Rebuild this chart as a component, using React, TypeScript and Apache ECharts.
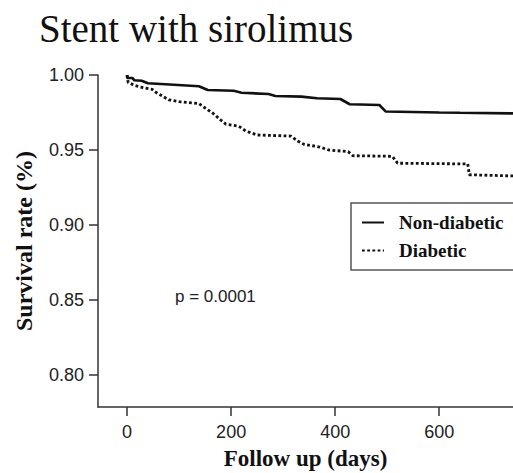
import React, { useEffect, useRef } from "react";
import * as echarts from "echarts";

const titleText = "Stent with sirolimus";
const xAxisName = "Follow up (days)";
const yAxisName = "Survival rate (%)";
const pValueText = "p = 0.0001";
const seriesNames = ["Non-diabetic", "Diabetic"];
const xTicks = [0, 200, 400, 600];
const yTicks = [0.8, 0.85, 0.9, 0.95, 1.0];

const nonDiabeticDays = [0, 0, 10, 14, 28, 40, 90, 138, 155, 205, 220, 272, 285, 335, 365, 410, 428, 485, 497, 600, 640, 742];
const nonDiabeticSurvival = [1.0, 0.998, 0.998, 0.9965, 0.9962, 0.9945, 0.9935, 0.9925, 0.99, 0.9895, 0.9882, 0.9873, 0.986, 0.9856, 0.9845, 0.984, 0.9805, 0.98, 0.9757, 0.975, 0.9748, 0.9744];

const diabeticDays = [0, 2, 15, 25, 48, 55, 65, 80, 100, 138, 150, 165, 180, 190, 215, 228, 250, 315, 328, 340, 370, 388, 425, 434, 510, 520, 655, 658, 742];
const diabeticSurvival = [1.0, 0.995, 0.993, 0.992, 0.9905, 0.9885, 0.9865, 0.9835, 0.9822, 0.981, 0.978, 0.9745, 0.97, 0.9672, 0.9658, 0.9627, 0.96, 0.9593, 0.956, 0.9538, 0.952, 0.95, 0.9489, 0.9462, 0.9458, 0.9412, 0.9407, 0.9335, 0.9327];

const App: React.FC = () => {
  const ref = useRef<HTMLDivElement>(null);
  useEffect(() => {
    if (!ref.current) return;
    const chart = echarts.init(ref.current, null, { renderer: "svg" });
    const serif = "'Liberation Serif', 'Times New Roman', serif";
    const sans = "'Liberation Sans', Arial, sans-serif";
    chart.setOption({
      animation: false,
      backgroundColor: "#ffffff",
      title: {
        text: titleText,
        left: 34,
        top: 4,
        textStyle: { fontFamily: serif, fontSize: 39, fontWeight: "normal", color: "#111" },
      },
      grid: { left: 98, top: 75, right: 0, bottom: 66, containLabel: false, outerBoundsMode: "none" },
      legend: {
        orient: "vertical",
        left: 351,
        top: 203,
        padding: [10, 12, 10, 10],
        itemGap: 9,
        itemWidth: 22,
        itemHeight: 14,
        borderColor: "#555",
        borderWidth: 1.5,
        data: seriesNames,
        itemStyle: { opacity: 0 },
        textStyle: { fontFamily: serif, fontSize: 19, fontWeight: "bold", color: "#111", padding: [0, 0, 0, 10] },
      },
      xAxis: {
        type: "value",
        min: -56,
        max: 742,
        name: xAxisName,
        nameLocation: "middle",
        nameGap: 40,
        nameTextStyle: { fontFamily: serif, fontSize: 23, fontWeight: "bold", color: "#111" },
        axisLine: { show: true, onZero: false, lineStyle: { color: "#333", width: 1.5 } },
        axisTick: { show: true, length: 9, customValues: xTicks, lineStyle: { color: "#333", width: 1.5 } },
        axisLabel: { customValues: xTicks, margin: 16, fontFamily: sans, fontSize: 18, color: "#222" },
        splitLine: { show: false },
      },
      yAxis: {
        type: "value",
        min: 0.7787,
        max: 1.0,
        name: yAxisName,
        nameLocation: "middle",
        nameGap: 62,
        nameTextStyle: { fontFamily: serif, fontSize: 24, fontWeight: "bold", color: "#111" },
        axisLine: { show: true, onZero: false, lineStyle: { color: "#333", width: 1.5 } },
        axisTick: { show: true, length: 9, customValues: yTicks, lineStyle: { color: "#333", width: 1.5 } },
        axisLabel: {
          customValues: yTicks,
          margin: 14,
          fontFamily: sans,
          fontSize: 18,
          color: "#222",
          formatter: (v: number) => v.toFixed(2),
        },
        splitLine: { show: false },
      },
      graphic: [
        {
          type: "text",
          left: 175,
          top: 288,
          style: { text: pValueText, fontFamily: sans, fontSize: 17, fill: "#222" },
        },
      ],
      series: [
        {
          name: seriesNames[0],
          type: "line",
          symbol: "none",
          clip: false,
          data: nonDiabeticDays.map((d, i) => [d, nonDiabeticSurvival[i]]),
          lineStyle: { color: "#111", width: 2.6, type: "solid" },
          itemStyle: { color: "#111" },
        },
        {
          name: seriesNames[1],
          type: "line",
          symbol: "none",
          clip: false,
          data: diabeticDays.map((d, i) => [d, diabeticSurvival[i]]),
          lineStyle: { color: "#111", width: 2.8, type: [2.8, 2.4] },
          itemStyle: { color: "#111" },
        },
      ],
    });
    return () => chart.dispose();
  }, []);
  return <div ref={ref} style={{ width: 513, height: 473, position: "absolute", left: 0, top: 0 }} />;
};

export default App;
